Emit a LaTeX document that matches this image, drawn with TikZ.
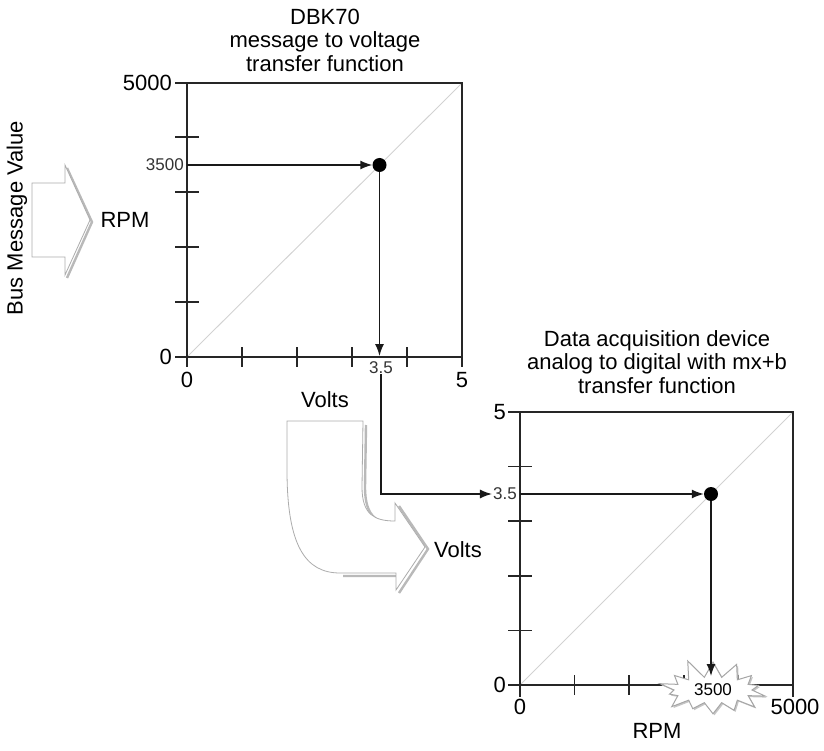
\documentclass[tikz,border=0pt]{standalone}
\usepackage{fontspec}
\setmainfont{Liberation Sans}
\usetikzlibrary{arrows.meta,shapes.symbols,shadows}

\tikzset{
  axis/.style={line width=2pt, black!85},
  tick/.style={line width=1.6pt, black!85},
  diag/.style={gray!35, line width=0.9pt},
  flow/.style={line width=1.4pt, black!90, -{Latex[length=12pt,width=9pt]}},
  dot/.style={circle, fill=black, inner sep=0pt, minimum size=14pt},
  big/.style={font=\fontsize{22}{23.5}\selectfont, inner sep=1pt},
  small/.style={font=\fontsize{17}{19}\selectfont, inner sep=1pt, text=black!80},
  blockarrow/.style={draw=gray!65, line width=0.8pt, fill=white},
  shade/.style={gray!55, line width=2.4pt},
}

\begin{document}
\begin{tikzpicture}[x=1pt,y=-1pt]
  \useasboundingbox (0,0) rectangle (824,751);

  % --- left block arrow
  \draw[shade] (67,168) -- (92,222) -- (67,278);
  \draw[blockarrow] (32,183) -- (65,183) -- (65,165) -- (90,220) -- (65,275)
    -- (65,257) -- (32,257) -- cycle;
  \node[big, rotate=90] (busval) at (17,218) {Bus Message Value};
  \node[big] (rpmin) at (125,220) {RPM};

  % --- first transfer function
  \node[big, align=center] (title1) at (325,40) {DBK70\\message to voltage\\transfer function};
  \draw[diag] (187,357) -- (462,83);
  \draw[axis] (175,83) -- (462,83) -- (462,367);
  \draw[axis] (187,83) -- (187,367);
  \draw[axis] (175,357) -- (462,357);
  \foreach \t in {1,...,4} {
    \draw[tick] (175,357-55*\t) -- (199,357-55*\t);
    \draw[tick] (187+55*\t,347) -- (187+55*\t,367);
  }
  \node[big, anchor=east] (ytop1) at (173,83) {5000};
  \node[big, anchor=east] (ybot1) at (173,357) {0};
  \node[small, anchor=east] (y3500) at (185,165) {3500};
  \node[big, anchor=north] (xbot1) at (187,371) {0};
  \node[big, anchor=north] (xtop1) at (462,371) {5};
  \node[small, anchor=north] (x35) at (381,360) {3.5};
  \node[big] (volts1) at (325,400) {Volts};

  \node[dot] (p1) at (379.5,165) {};
  \coordinate (yin1) at (187,165);
  \coordinate (xout1) at (379.5,356);
  \draw[flow] (yin1) -- (p1);
  \draw[flow] (p1) -- (xout1);

  % --- bent block arrow
  \draw[shade] (366,425) -- (365,487) .. controls (365,518) and (378,524) .. (398,524)
    (399,506) -- (428,549) -- (399,593) (343,576) -- (399,576);
  \draw[blockarrow] (287,421) -- (363,421) -- (362,487)
    .. controls (362,515) and (375,521) .. (395,521) -- (395,503) -- (425,547)
    -- (396,590) -- (396,573) -- (340,573)
    .. controls (305,573) and (287,545) .. (287,470) -- cycle;
  \node[big] (volts2) at (458,550) {Volts};

  % --- second transfer function
  \node[big, align=center] (title2) at (657,362) {Data acquisition device\\analog to digital with mx+b\\transfer function};
  \draw[diag] (520,685) -- (793,412);
  \draw[axis] (508,412) -- (793,412) -- (793,697);
  \draw[axis] (520,412) -- (520,697);
  \draw[axis] (508,685) -- (793,685);
  \foreach \t in {1,...,4} {
    \draw[tick] (508,685-54.6*\t) -- (532,685-54.6*\t);
    \draw[tick] (520+54.6*\t,675) -- (520+54.6*\t,695);
  }
  \node[big, anchor=east] (ytop2) at (507,412) {5};
  \node[big, anchor=east] (ybot2) at (507,685) {0};
  \node[small, anchor=east] (y35) at (518,494) {3.5};
  \node[big, anchor=north] (xbot2) at (520,698) {0};
  \node[big, anchor=north] (xtop2) at (795,698) {5000};
  \node[big] (rpmout) at (657,731) {RPM};

  \node[starburst, starburst points=14, starburst point height=20pt,
    random starburst=11, draw=gray!70, line width=1pt, fill=white,
    drop shadow={shadow xshift=1.5pt, shadow yshift=-1.5pt, fill=gray!45, opacity=1},
    minimum width=118pt, minimum height=66pt, small, text=black] (burst) at (713,690) {3500};

  \node[dot] (p2) at (711,494) {};
  \coordinate (yin2) at (520,494);
  \coordinate (xout2) at (711,676);
  \draw[flow] (x35.south) |- (y35.west);
  \draw[flow] (yin2) -- (p2);
  \draw[flow] (p2) -- (xout2);
\end{tikzpicture}
\end{document}
